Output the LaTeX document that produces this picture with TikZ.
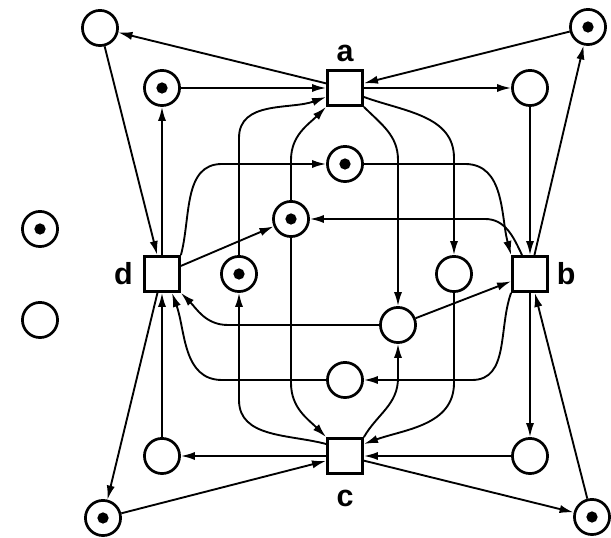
\documentclass[tikz,border=0pt]{standalone}
\usepackage{fontspec}
\setsansfont{Liberation Sans}
\usetikzlibrary{arrows.meta,positioning,calc}
\tikzset{every picture/.style={line width=1.6pt}}
\tikzset{
  place/.style={circle,draw,line width=2.3pt,minimum size=30pt,inner sep=0pt,fill=white},
  marked/.style={place,path picture={\fill[black] (path picture bounding box.center) circle (4.8pt);}},
  trans/.style={rectangle,draw,line width=2.3pt,minimum size=30pt,inner sep=0pt,fill=white},
  lbl/.style={font=\sffamily\bfseries\fontsize{26}{26}\selectfont,inner sep=0pt},
  arc/.style={-{Latex[length=12pt,width=7pt]}}
}

\begin{document}
\begin{tikzpicture}[x=0.03cm,y=0.03cm]
\useasboundingbox (0,0) rectangle (611,538);
% transitions
\node[trans] (a) at (345,450) {};
\node[trans] (b) at (530,264) {};
\node[trans] (c) at (345,82) {};
\node[trans] (d) at (162,264) {};
\node[lbl,above=5pt of a] (la) {a};
\node[lbl,right=6pt of b] (lb) {b};
\node[lbl,below=12pt of c] (lc) {c};
\node[lbl,left=8pt of d] (ld) {d};
% places
\node[place]  (p1) at (100,510) {};
\node[marked] (p2) at (588,511) {};
\node[marked] (p3) at (103,20) {};
\node[marked] (p4) at (592,21) {};
\node[marked] (p5) at (162,450) {};
\node[place]  (p6) at (530,450) {};
\node[place]  (p7) at (162,82) {};
\node[place]  (p8) at (530,82) {};
\node[marked] (p9) at (345,374) {};
\node[marked] (p10) at (291,319) {};
\node[marked] (p11) at (239,264) {};
\node[place]  (p12) at (454,264) {};
\node[place]  (p13) at (398,213) {};
\node[place]  (p14) at (345,158) {};
\node[marked] (q1) at (40,309) {};
\node[place]  (q2) at (40,218) {};
% outer arcs
\draw[arc] (a) -- (p1);
\draw[arc] (p1) -- (d);
\draw[arc] (p2) -- (a);
\draw[arc] (b) -- (p2);
\draw[arc] (p4) -- (b);
\draw[arc] (c) -- (p4);
\draw[arc] (p3) -- (c);
\draw[arc] (d) -- (p3);
% inner ring
\draw[arc] (p5) -- (a);
\draw[arc] (d) -- (p5);
\draw[arc] (a) -- (p6);
\draw[arc] (p6) -- (b);
\draw[arc] (b) -- (p8);
\draw[arc] (p8) -- (c);
\draw[arc] (c) -- (p7);
\draw[arc] (p7) -- (d);
% middle
\draw[arc] (d) -- (p10);
\draw[arc] (p13) -- (b);
\draw[arc] (d.north east) to[out=75,in=180] (222,374) -- (p9);
\draw[arc] (p9) -- (465,374) to[out=0,in=105] (b.north west);
\draw[arc] ($(b.north)+(-8,0)$) to[out=115,in=0] (485,319) -- (p10);
\draw[arc] (b.south west) to[out=-110,in=0] (472,158) -- (p14);
\draw[arc] (p14) -- (222,158) to[out=180,in=-70] ($(d.south)+(10,0)$);
\draw[arc] (p13) -- (228,213) to[out=180,in=-45] (d.south east);
\draw[arc] ($(c.west)+(0,12)$) to[out=165,in=-90] (239,138) -- (p11);
\draw[arc] (p10) -- (291,155) to[out=-90,in=135] (c.north west);
\draw[arc] (c.north east) to[out=60,in=-90] (398,160) -- (p13);
\draw[arc] (p12) -- (454,155) to[out=-90,in=20] ($(c.east)+(0,12)$);
\draw[arc] (p11) -- (239,400) to[out=90,in=200] ($(a.west)+(0,-9)$);
\draw[arc] (p10) -- (291,378) to[out=90,in=225] (a.south west);
\draw[arc] (a.south east) to[out=-45,in=90] (398,378) -- (p13);
\draw[arc] ($(a.east)+(0,-9)$) to[out=-20,in=90] (454,380) -- (p12);
\end{tikzpicture}
\end{document}
